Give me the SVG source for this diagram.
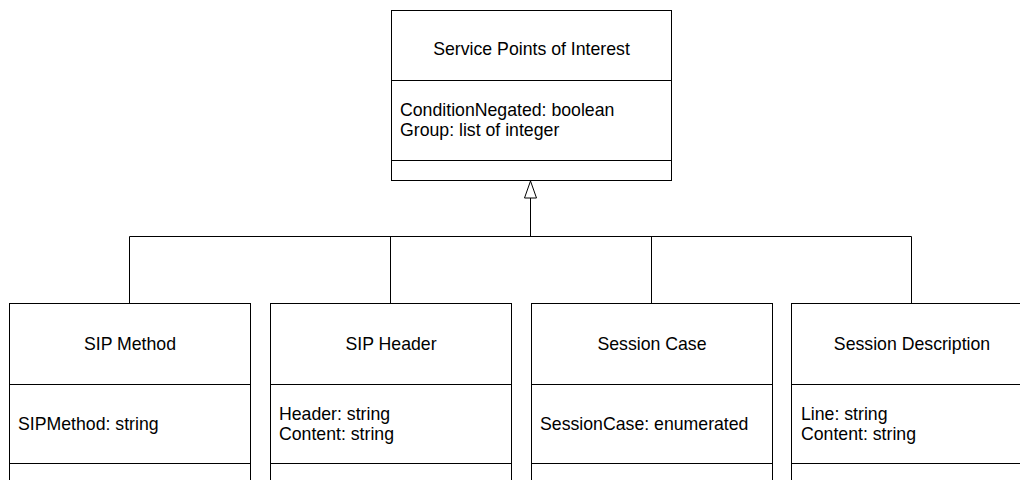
<svg xmlns="http://www.w3.org/2000/svg" width="1020" height="480" viewBox="0 0 1020 480">
<style>
.box{fill:#fff;stroke:#000;stroke-width:1}
.div{stroke:#000;stroke-width:1}
.t{font-family:"Liberation Sans",Arial,sans-serif;font-size:17.7px;fill:#000}
.c{text-anchor:middle}
.con{stroke:#000;stroke-width:1;fill:none}
</style>
<rect width="1020" height="480" fill="#fff"/>
<g id="connectors">
<path class="con" d="M530.5 198 V236.5 M129.5 236.5 H911.5 M129.5 236.5 V303.5 M390.5 236.5 V303.5 M651.5 236.5 V303.5 M911.5 236.5 V303.5"/>
<polygon points="530.5,181 524.5,198 536.5,198" fill="#fff" stroke="#000" stroke-width="1"/>
</g>
<g id="service-points-of-interest">
<rect class="box" x="391.5" y="10.5" width="280" height="170"/>
<line class="div" x1="391.5" y1="80.5" x2="671.5" y2="80.5"/>
<line class="div" x1="391.5" y1="160.5" x2="671.5" y2="160.5"/>
<text class="t c" x="531.5" y="55">Service Points of Interest</text>
<text class="t" x="400" y="116">ConditionNegated: boolean</text>
<text class="t" x="400" y="136">Group: list of integer</text>
</g>
<g id="sip-method">
<rect class="box" x="9.5" y="303.5" width="241" height="190"/>
<line class="div" x1="9.5" y1="384.5" x2="250.5" y2="384.5"/>
<line class="div" x1="9.5" y1="463.5" x2="250.5" y2="463.5"/>
<text class="t c" x="130" y="350">SIP Method</text>
<text class="t" x="18" y="430">SIPMethod: string</text>
</g>
<g id="sip-header">
<rect class="box" x="270.5" y="303.5" width="241" height="190"/>
<line class="div" x1="270.5" y1="384.5" x2="511.5" y2="384.5"/>
<line class="div" x1="270.5" y1="463.5" x2="511.5" y2="463.5"/>
<text class="t c" x="391" y="350">SIP Header</text>
<text class="t" x="279" y="420">Header: string</text>
<text class="t" x="279" y="440">Content: string</text>
</g>
<g id="session-case">
<rect class="box" x="531.5" y="303.5" width="241" height="190"/>
<line class="div" x1="531.5" y1="384.5" x2="772.5" y2="384.5"/>
<line class="div" x1="531.5" y1="463.5" x2="772.5" y2="463.5"/>
<text class="t c" x="652" y="350">Session Case</text>
<text class="t" x="540" y="430">SessionCase: enumerated</text>
</g>
<g id="session-description">
<rect class="box" x="791.5" y="303.5" width="241" height="190"/>
<line class="div" x1="791.5" y1="384.5" x2="1032.5" y2="384.5"/>
<line class="div" x1="791.5" y1="463.5" x2="1032.5" y2="463.5"/>
<text class="t c" x="912" y="350">Session Description</text>
<text class="t" x="801" y="420">Line: string</text>
<text class="t" x="801" y="440">Content: string</text>
</g>
</svg>
